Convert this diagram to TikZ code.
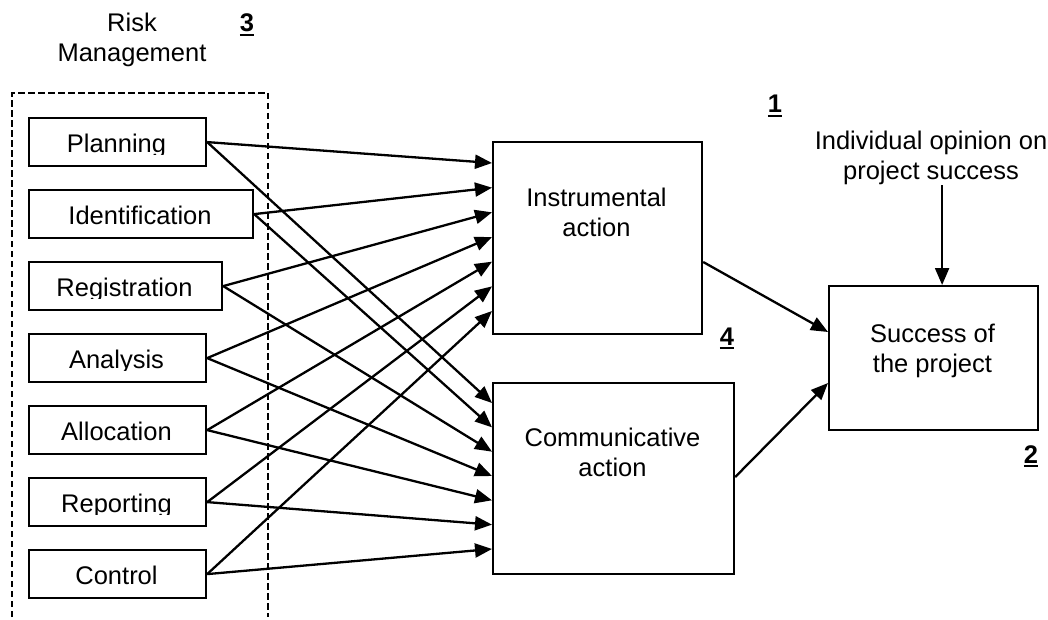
\documentclass[tikz,border=0pt]{standalone}
\usepackage{fontspec}
\setmainfont{Liberation Sans}
\usetikzlibrary{arrows.meta,calc}
\newcommand\ulbold[1]{\setbox0\hbox{\bfseries #1}\rlap{\rule[-4.3pt]{\wd0}{2.6pt}}\box0}
\begin{document}
\begin{tikzpicture}[x=1pt,y=-1pt,
  box/.style={draw,line width=2.2pt,inner sep=0pt,anchor=north west},
  lbl/.style={font=\fontsize{25.5}{30}\selectfont,inner sep=0pt,align=center},
  arr/.style={line width=2.3pt,-{Triangle[length=17pt,width=14pt]}},
  dsh/.style={line width=1.5pt,dash pattern=on 6.5pt off 3.5pt}]
\useasboundingbox (0,0) rectangle (1048,620);

% dashed frame of Risk Management
\draw[dsh] (12,617) -- (12,93) -- (268,93) -- (268,617);
\node[lbl] (risk) at (132,40.4) {Risk\\Management};
\node[lbl,anchor=base] (n3) at (247,32) {\ulbold{3}};

% left boxes
\node[box,minimum width=177pt,minimum height=48pt] (plan) at (28,117) {};
\node[box,minimum width=224pt,minimum height=48pt] (iden) at (28,189) {};
\node[box,minimum width=193pt,minimum height=48pt] (regi) at (28,261) {};
\node[box,minimum width=177pt,minimum height=48pt] (anal) at (28,333) {};
\node[box,minimum width=177pt,minimum height=48pt] (allo) at (28,405) {};
\node[box,minimum width=177pt,minimum height=48pt] (repo) at (28,477) {};
\node[box,minimum width=177pt,minimum height=48pt] (ctrl) at (28,549) {};

\begin{scope}\clip (28,117) rectangle (205,154.5);
\node[lbl,anchor=base] (plan-t) at (116.5,152.5) {Planning};\end{scope}
\begin{scope}\clip (28,189) rectangle (252,226.5);
\node[lbl,anchor=base] (iden-t) at (140,224.5) {Identification};\end{scope}
\begin{scope}\clip (28,261) rectangle (221,298.5);
\node[lbl,anchor=base] (regi-t) at (124.5,296.5) {Registration};\end{scope}
\begin{scope}\clip (28,333) rectangle (205,370.5);
\node[lbl,anchor=base] (anal-t) at (116.5,368.5) {Analysis};\end{scope}
\begin{scope}\clip (28,405) rectangle (205,442.5);
\node[lbl,anchor=base] (allo-t) at (116.5,440.5) {Allocation};\end{scope}
\begin{scope}\clip (28,477) rectangle (205,514.5);
\node[lbl,anchor=base] (repo-t) at (116.5,512.5) {Reporting};\end{scope}
\begin{scope}\clip (28,549) rectangle (205,586.5);
\node[lbl,anchor=base] (ctrl-t) at (116.5,584.5) {Control};\end{scope}

% middle boxes
\node[box,minimum width=209pt,minimum height=192pt] (instr) at (492,141) {};
\node[lbl] (instr-t) at (596.5,212.8) {Instrumental\\action};
\node[box,minimum width=241pt,minimum height=191pt] (comm) at (492,382) {};
\node[lbl] (comm-t) at (612.5,452.8) {Communicative\\action};

% success box
\node[box,minimum width=209pt,minimum height=144pt] (succ) at (828,285) {};
\node[lbl] (succ-t) at (932.5,351.4) {Success of\\the project};
\node[lbl] (opin) at (931,158.4) {Individual opinion on\\project success};

% numbers
\node[lbl,anchor=base] (n1) at (775,113) {\ulbold{1}};
\node[lbl,anchor=base] (n4) at (727,345) {\ulbold{4}};
\node[lbl,anchor=base] (n2) at (1031,463) {\ulbold{2}};

% connectors
\foreach \n [count=\k from 0, evaluate=\k as \da using 22+\k*24.67, evaluate=\k as \db using 21+\k*24.33] in {plan,iden,regi,anal,allo,repo,ctrl} {
  \draw[arr] (\n.east) -- ([yshift=-\da pt]instr.north west);
  \draw[arr] (\n.east) -- ([yshift=-\db pt]comm.north west);
}
\draw[arr] ([yshift=-121pt]instr.north east) -- ([yshift=-47pt]succ.north west);
\draw[arr] ([yshift=-95pt]comm.north east) -- ([yshift=-98pt]succ.north west);
\draw[arr] ([xshift=8.5pt]succ.north |- opin.south) -- ([xshift=8.5pt]succ.north);
\end{tikzpicture}
\end{document}
